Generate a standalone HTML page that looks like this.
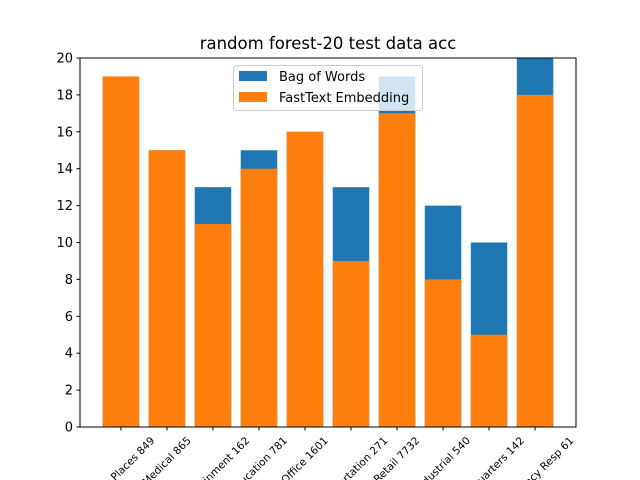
<!DOCTYPE html>
<html><head><meta charset="utf-8"><style>
body{margin:0;background:#fff;overflow:hidden}
svg text{font-family:"DejaVu Sans","Liberation Sans",sans-serif}
</style></head><body>
<svg id="chart" width="640" height="480" style="display:block">
<text x="328" y="49" font-size="16.5" text-anchor="middle">random forest-20 test data acc</text>
<g id="bars"></g><g id="axes"></g>
<g>
<rect x="233.5" y="65.5" width="189" height="45" rx="3" fill="#fff" fill-opacity="0.8" stroke="#ccc"/>
<rect x="239" y="71" width="28" height="10" fill="#1f77b4"/>
<text x="279" y="81" font-size="13">Bag of Words</text>
<rect x="239" y="92" width="28" height="10" fill="#ff7f0e"/>
<text x="279" y="102" font-size="13">FastText Embedding</text>
</g>
</svg>
<script>
const categories=["Public Places 849","Medical 865","Entertainment 162","Education 781","Office 1601","Transportation 271","Retail 7732","Industrial 540","Headquarters 142","Emergency Resp 61"];
const bowValues=[19,15,13,15,16,13,19,12,10,20];
const fastTextValues=[19,15,11,14,16,9,17,8,5,18];
const yTicks=[0,2,4,6,8,10,12,14,16,18,20];
const L=80,R=576,T=58,B=427,NS="http://www.w3.org/2000/svg";
const xs=i=>L+(i+0.89)*(R-L)/10.78;
const ys=v=>B-v*(B-T)/20;
const bw=36.5;
function mk(tag,attrs,parent){const e=document.createElementNS(NS,tag);for(const k in attrs)e.setAttribute(k,attrs[k]);parent.appendChild(e);return e;}
const bars=document.getElementById('bars'),axes=document.getElementById('axes');
bowValues.forEach((v,i)=>{const r=mk('rect',{x:xs(i)-bw/2,y:ys(v),width:bw,height:ys(0)-ys(v),fill:'#1f77b4'},bars);

});
fastTextValues.forEach((v,i)=>{const r=mk('rect',{x:xs(i)-bw/2,y:ys(v),width:bw,height:ys(0)-ys(v),fill:'#ff7f0e'},bars);

});
mk('rect',{x:L,y:T,width:R-L,height:B-T,fill:'none',stroke:'#000','stroke-width':1},axes);
yTicks.forEach(t=>{const y=ys(t);mk('line',{x1:L-3.5,x2:L,y1:y,y2:y,stroke:'#000'},axes);
const tx=mk('text',{x:L-7,y:y+4.5,'font-size':13,'text-anchor':'end'},axes);tx.textContent=t;

});
categories.forEach((c,i)=>{const x=xs(i);mk('line',{x1:x,x2:x,y1:B,y2:B+3.5,stroke:'#000'},axes);
const tx=mk('text',{'font-size':10.5,'text-anchor':'middle','dominant-baseline':'central'},axes);tx.textContent=c;
const w=tx.getComputedTextLength();
const cy=B+8+0.354*w+4;
tx.setAttribute('x',x);tx.setAttribute('y',cy);
tx.setAttribute('transform',`rotate(-45 ${x} ${cy})`);

});
</script>
</body></html>
